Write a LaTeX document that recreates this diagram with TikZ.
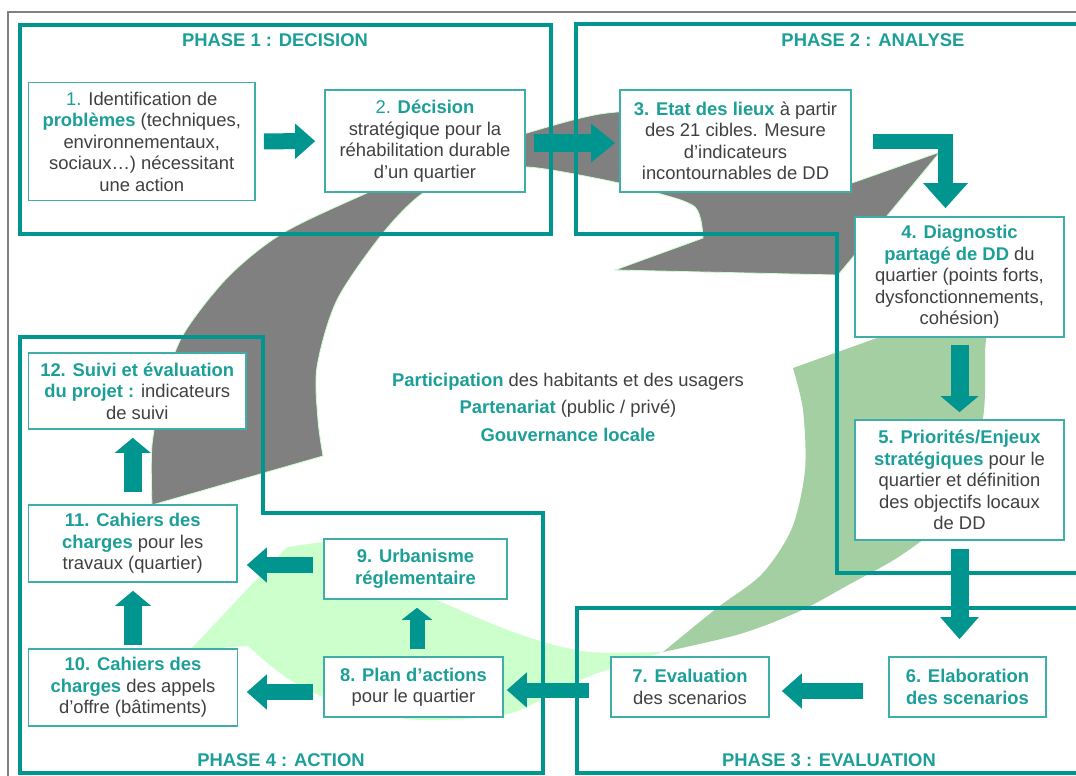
\documentclass[tikz,border=0pt]{standalone}
\usepackage{fontspec}
\setmainfont{Liberation Sans}
\usetikzlibrary{arrows.meta}

\definecolor{sarcelle}{HTML}{00968F}
\definecolor{bordcyan}{HTML}{3FAEA8}
\definecolor{textecyan}{HTML}{1C9F98}
\definecolor{gristexte}{HTML}{404040}
\definecolor{grisfleche}{HTML}{808080}
\definecolor{vertclair}{HTML}{CCFFCC}
\definecolor{vertfonce}{HTML}{A3CFA3}

\newcommand{\dest}[1]{\textbf{\textcolor{textecyan}{#1}}}

\tikzset{
  boite/.style={draw=bordcyan, line width=1.6pt, fill=white, align=center,
    inner sep=0pt, text=gristexte, font=\fontsize{18.4}{21.5}\selectfont},
  cadre/.style={draw=sarcelle, line width=4.5pt, line join=miter},
  titre/.style={text=textecyan, font=\fontsize{18.4}{21}\selectfont\bfseries},
  fleche/.style={draw=sarcelle, line width=16pt, -{Triangle[width=34pt,length=20pt]}},
  flechev/.style={draw=sarcelle, line width=18pt, -{Triangle[width=36pt,length=17pt]}}
}

\begin{document}
\begin{tikzpicture}[x=1pt,y=-1pt]
\useasboundingbox (0,0) rectangle (1076,776);
\fill[white] (0,0) rectangle (1076,776);

% cadre gris
\draw[grisfleche, line width=2pt] (8,776) -- (8,12) -- (1076,12);

% grande fleche verte
\fill[vertclair] (190,650) -- (287,547) -- (322,542) -- (440,592)
  -- plot[smooth] coordinates {(437,600) (490,623) (540,641) (590,652) (663,652)}
  -- plot[smooth] coordinates {(663,652) (590,676) (545,698) (503,715) (420,720) (350,708) (290,680) (248,646)}
  -- cycle;
\fill[vertfonce] plot[smooth] coordinates {(663,652) (740,634) (800,611) (850,584) (900,556) (945,520) (972,470) (984,410) (985,350)}
  -- (990,300) -- (877,338) -- (793,368)
  -- plot[smooth] coordinates {(793,368) (803,410) (805,470) (792,528) (762,574) (717,608) (663,652)}
  -- cycle;

% grande fleche grise
\filldraw[fill=grisfleche, draw=vertclair, line width=0.8pt]
  plot[smooth] coordinates {(152,505) (152,445) (163,390) (183,335) (228,277) (283,233) (367,193) (450,158) (527,133) (600,114) (680,108)}
  -- (780,125) -- (852,183) -- (940,152) -- (838,275) -- (615,270) -- (703,238)
  -- plot[smooth] coordinates {(703,238) (695,207) (650,191) (600,179) (527,167) (470,173) (423,193) (383,233) (337,300) (317,367) (318,420) (323,456)}
  -- cycle;

% phases
\draw[cadre] (20,25) rectangle (551,234);
\draw[cadre] (576,24) -- (1090,24) -- (1090,573) -- (837,573) -- (837,234) -- (576,234) -- cycle;
\draw[cadre] (577,608) -- (1090,608) -- (1090,773) -- (577,773) -- cycle;
\draw[cadre] (20,337) -- (263,337) -- (263,513) -- (543,513) -- (543,773) -- (20,773) -- cycle;

\node[titre] (t1) at (275,40) {PHASE 1 : DECISION};
\node[titre] (t2) at (873,40) {PHASE 2 : ANALYSE};
\node[titre] (t3) at (829,760) {PHASE 3 : EVALUATION};
\node[titre] (t4) at (281,760) {PHASE 4 : ACTION};

% etapes
\node[boite, minimum width=226.5pt, minimum height=118pt] (b1) at (141.75,141.5)
  {\textcolor{textecyan}{1.} Identification de\\ \dest{problèmes} (techniques,\\ environnementaux,\\ sociaux…) nécessitant\\ une action};
\node[boite, minimum width=200pt, minimum height=102pt] (b2) at (425,141)
  {\textcolor{textecyan}{2.} \dest{Décision}\\ stratégique pour la\\ réhabilitation durable\\ d’un quartier};
\node[boite, minimum width=231pt, minimum height=102pt] (b3) at (735.5,141)
  {\dest{3. Etat des lieux} à partir\\ des 21 cibles. Mesure\\ d’indicateurs\\ incontournables de DD};
\node[boite, minimum width=209pt, minimum height=120pt] (b4) at (959.5,277)
  {\dest{4. Diagnostic}\\ \dest{partagé de DD} du\\ quartier (points forts,\\ dysfonctionnements,\\ cohésion)};
\node[boite, minimum width=209pt, minimum height=120pt] (b5) at (959.5,480)
  {\dest{5. Priorités/Enjeux}\\ \dest{stratégiques} pour le\\ quartier et définition\\ des objectifs locaux\\ de DD};
\node[boite, minimum width=157pt, minimum height=60pt] (b6) at (967.5,687)
  {\dest{6. Elaboration}\\ \dest{des scenarios}};
\node[boite, minimum width=158pt, minimum height=60pt] (b7) at (690,687)
  {\dest{7. Evaluation}\\ des scenarios};
\node[boite, minimum width=179pt, minimum height=60pt] (b8) at (413.5,687)
  {\dest{8. Plan d’actions}\\ pour le quartier};
\node[boite, minimum width=183pt, minimum height=60pt] (b9) at (415.5,569)
  {\dest{9. Urbanisme}\\ \dest{réglementaire}};
\node[boite, minimum width=209pt, minimum height=77pt] (b10) at (133,687.5)
  {\dest{10. Cahiers des}\\ \dest{charges} des appels\\ d’offre (bâtiments)};
\node[boite, minimum width=208.5pt, minimum height=77pt] (b11) at (132.75,543.5)
  {\dest{11. Cahiers des}\\ \dest{charges} pour les\\ travaux (quartier)};
\node[boite, minimum width=217.5pt, minimum height=76pt] (b12) at (137.25,391)
  {\dest{12. Suivi et évaluation}\\ \dest{du projet :} indicateurs\\ de suivi};

% centre
\node[align=center, text=gristexte, font=\fontsize{18.4}{27.5}\selectfont] (centre) at (568,407)
  {\dest{Participation} des habitants et des usagers\\ \dest{Partenariat} (public / privé)\\ \dest{Gouvernance locale}};

% fleches
\draw[fleche, shorten <=8pt, shorten >=9pt] (b1) -- (b2);
\draw[fleche, line width=18pt, -{Triangle[width=37pt,length=24pt]}, shorten <=8pt, shorten >=4pt] ([yshift=-2pt]b2.east) -- ([yshift=-2pt]b3.west);
\draw[fleche, line width=15pt, line join=miter, -{Triangle[width=43pt,length=25pt]}, shorten <=21pt, shorten >=8pt]
  (b3.east) -| ([xshift=-14pt]b4.north);
\draw[flechev, -{Triangle[width=37pt,length=16pt]}, shorten <=7pt, shorten >=7pt] (b4) -- (b5);
\draw[flechev, -{Triangle[width=37pt,length=22pt]}, shorten <=8pt, shorten >=17pt] (b5.south) -- (b5.south |- b6.north);
\draw[fleche, shorten <=25pt, shorten >=12pt] ([yshift=-4pt]b6.west) -- ([yshift=-4pt]b6.west -| b7.east);
\draw[fleche, line width=15pt, shorten <=21pt, shorten >=3pt] ([yshift=-3pt]b7.west) -- ([yshift=-3pt]b7.west -| b8.east);
\draw[fleche, shorten <=10pt, shorten >=8.5pt] ([yshift=-5pt]b8.west) -- ([yshift=-5pt]b8.west -| b10.east);
\draw[fleche, shorten <=10pt, shorten >=9pt] ([yshift=4pt]b9.west) -- ([yshift=4pt]b9.west -| b11.east);
\draw[flechev, line width=15pt, -{Triangle[width=30pt,length=12pt]}, shorten <=7pt, shorten >=8pt] ([xshift=3.5pt]b8.north) -- ([xshift=3.5pt]b8.north |- b9.south);
\draw[flechev, -{Triangle[width=35pt,length=15pt]}, shorten <=3pt, shorten >=8pt] (b10.north) -- (b10.north |- b11.south);
\draw[flechev, -{Triangle[width=35pt,length=15pt]}, shorten <=12pt, shorten >=8pt] (b11.north) -- (b11.north |- b12.south);
\end{tikzpicture}
\end{document}
